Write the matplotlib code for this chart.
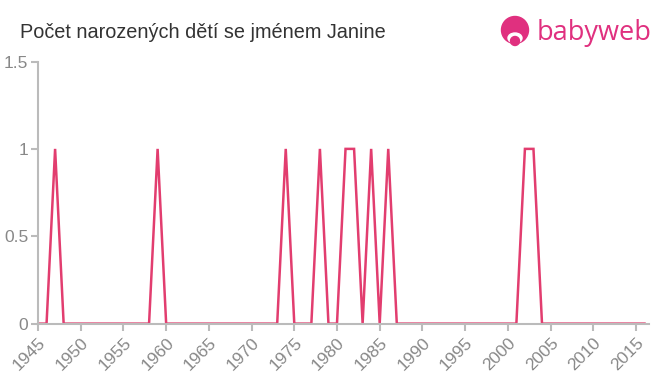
import matplotlib
matplotlib.use("Agg")
import matplotlib.pyplot as plt
from matplotlib.patches import Circle, Ellipse

years = list(range(1945, 2017))
ones = [1947, 1959, 1974, 1978, 1981, 1982, 1984, 1986, 2002, 2003]
counts = [1 if y in ones else 0 for y in years]
xticks = list(range(1945, 2016, 5))
yticks = [0, 0.5, 1, 1.5]
ytick_labels = ["0", "0.5", "1", "1.5"]
title = "Počet narozených dětí se jménem Janine"

plt.rcParams['font.family'] = ['Liberation Sans', 'DejaVu Sans']

fig = plt.figure(figsize=(6.6, 3.75), dpi=100)
ax = fig.add_axes([0.0576, 0.137, 0.9254, 0.699])
ax.plot(years, counts, color='#e23d6f', linewidth=1.8, solid_joinstyle='miter')
ax.set_xlim(1945, 2016.5)
ax.set_ylim(0, 1.5)
ax.set_xticks(xticks)
ax.set_xticklabels([str(x) for x in xticks], rotation=45, ha='right', rotation_mode='anchor')
ax.set_yticks(yticks)
ax.set_yticklabels(ytick_labels)
for s in ['top', 'right']:
    ax.spines[s].set_visible(False)
for s in ['left', 'bottom']:
    ax.spines[s].set_color('#bbbbbb')
    ax.spines[s].set_linewidth(1.5)
ax.tick_params(axis='both', colors='#bbbbbb', labelcolor='#888888', labelsize=12.5, length=5, width=1.5)
ax.tick_params(axis='y', pad=2)

fig.text(20/660, 1 - 32/375, title, fontsize=14.3, color='#333333', va='center', ha='left')

# logo
pink = '#e0307f'
lax = fig.add_axes([0, 0, 1, 1], facecolor='none')
lax.set_xlim(0, 660)
lax.set_ylim(375, 0)
lax.axis('off')
lax.add_patch(Circle((515, 30), 13.5, color=pink))
lax.add_patch(Ellipse((515, 38), 14, 10, color='white'))
lax.add_patch(Circle((515, 41), 4.5, color=pink))
lax.text(537, 33, "babyweb", fontsize=19.5, color=pink, va='center', ha='left', family=['Open Sans', 'DejaVu Sans'])

fig.savefig("out.png", dpi=100)
